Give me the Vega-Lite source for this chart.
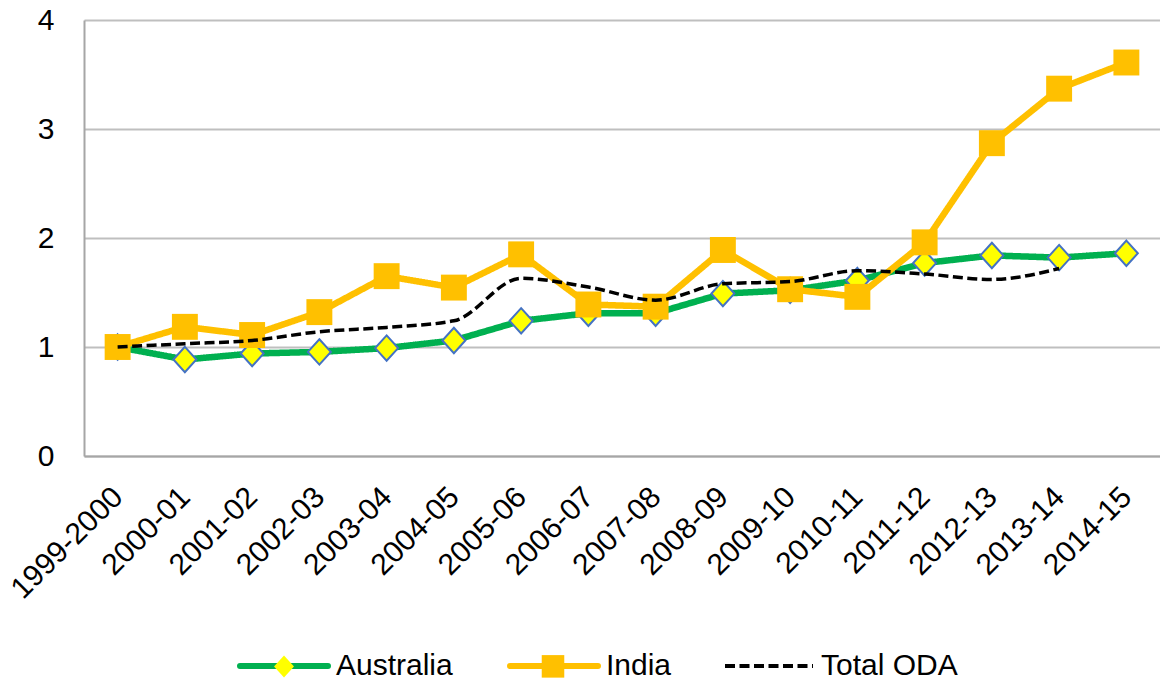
{
  "$schema": "https://vega.github.io/schema/vega-lite/v6.json",
  "width": 1076,
  "height": 436,
  "autosize": {"type": "none"},
  "padding": {"left": 84, "top": 20, "right": 0, "bottom": 226},
  "background": "white",
  "config": {"view": {"stroke": null}, "font": "Liberation Sans"},
  "data": {"values": [
    {"year": "1999-2000", "series": "Australia", "value": 1.00},
    {"year": "2000-01", "series": "Australia", "value": 0.885},
    {"year": "2001-02", "series": "Australia", "value": 0.94},
    {"year": "2002-03", "series": "Australia", "value": 0.955},
    {"year": "2003-04", "series": "Australia", "value": 0.99},
    {"year": "2004-05", "series": "Australia", "value": 1.06},
    {"year": "2005-06", "series": "Australia", "value": 1.24},
    {"year": "2006-07", "series": "Australia", "value": 1.31},
    {"year": "2007-08", "series": "Australia", "value": 1.31},
    {"year": "2008-09", "series": "Australia", "value": 1.49},
    {"year": "2009-10", "series": "Australia", "value": 1.52},
    {"year": "2010-11", "series": "Australia", "value": 1.61},
    {"year": "2011-12", "series": "Australia", "value": 1.77},
    {"year": "2012-13", "series": "Australia", "value": 1.84},
    {"year": "2013-14", "series": "Australia", "value": 1.82},
    {"year": "2014-15", "series": "Australia", "value": 1.86},
    {"year": "1999-2000", "series": "India", "value": 1.00},
    {"year": "2000-01", "series": "India", "value": 1.185},
    {"year": "2001-02", "series": "India", "value": 1.11},
    {"year": "2002-03", "series": "India", "value": 1.32},
    {"year": "2003-04", "series": "India", "value": 1.65},
    {"year": "2004-05", "series": "India", "value": 1.545},
    {"year": "2005-06", "series": "India", "value": 1.85},
    {"year": "2006-07", "series": "India", "value": 1.39},
    {"year": "2007-08", "series": "India", "value": 1.37},
    {"year": "2008-09", "series": "India", "value": 1.89},
    {"year": "2009-10", "series": "India", "value": 1.53},
    {"year": "2010-11", "series": "India", "value": 1.46},
    {"year": "2011-12", "series": "India", "value": 1.96},
    {"year": "2012-13", "series": "India", "value": 2.87},
    {"year": "2013-14", "series": "India", "value": 3.37},
    {"year": "2014-15", "series": "India", "value": 3.61},
    {"year": "1999-2000", "series": "Total ODA", "value": 1.00},
    {"year": "2000-01", "series": "Total ODA", "value": 1.03},
    {"year": "2001-02", "series": "Total ODA", "value": 1.06},
    {"year": "2002-03", "series": "Total ODA", "value": 1.14},
    {"year": "2003-04", "series": "Total ODA", "value": 1.18},
    {"year": "2004-05", "series": "Total ODA", "value": 1.24},
    {"year": "2005-06", "series": "Total ODA", "value": 1.63},
    {"year": "2006-07", "series": "Total ODA", "value": 1.55},
    {"year": "2007-08", "series": "Total ODA", "value": 1.43},
    {"year": "2008-09", "series": "Total ODA", "value": 1.58},
    {"year": "2009-10", "series": "Total ODA", "value": 1.60},
    {"year": "2010-11", "series": "Total ODA", "value": 1.70},
    {"year": "2011-12", "series": "Total ODA", "value": 1.67},
    {"year": "2012-13", "series": "Total ODA", "value": 1.62},
    {"year": "2013-14", "series": "Total ODA", "value": 1.72}
  ]},
  "encoding": {
    "x": {
      "field": "year", "type": "ordinal", "sort": null,
      "scale": {"type": "point", "padding": 0.5},
      "axis": {"title": null, "labelAngle": -45, "labelAlign": "right", "labelBaseline": "middle", "labelFontSize": 30, "labelColor": "#000000", "ticks": false, "domainColor": "#A6A6A6", "domainWidth": 2, "labelPadding": 36, "grid": false}
    },
    "y": {
      "field": "value", "type": "quantitative",
      "scale": {"domain": [0, 4], "nice": false},
      "axis": {"title": null, "values": [0, 1, 2, 3, 4], "grid": true, "gridColor": "#BFBFBF", "gridWidth": 2, "domainColor": "#A6A6A6", "domainWidth": 2, "ticks": false, "labelPadding": 30, "labelFontSize": 30, "labelColor": "#000000"}
    }
  },
  "layer": [
    {
      "transform": [{"filter": "datum.series === 'Australia'"}],
      "mark": {"type": "line", "strokeWidth": 6.5, "strokeJoin": "round", "strokeCap": "round"},
      "encoding": {
        "stroke": {"field": "series", "type": "nominal", "scale": {"domain": ["Australia", "India", "Total ODA"], "range": ["#00B050", "#FFC000", "#000000"]},
          "legend": {"title": null, "orient": "none", "legendX": 153, "legendY": 599, "direction": "horizontal", "symbolType": "stroke", "symbolSize": 7744, "labelFontSize": 30, "labelColor": "#000000", "labelOffset": 5, "columnPadding": 45, "padding": 0,
            "encode": {"symbols": {"update": {"strokeWidth": {"signal": "(datum.label === 'Total ODA' ? 4 : 6)"}, "strokeCap": {"signal": "(datum.label === 'Total ODA' ? 'butt' : 'round')"}}}}}},
        "strokeDash": {"field": "series", "type": "nominal", "scale": {"domain": ["Australia", "India", "Total ODA"], "range": [[1, 0], [1, 0], [10, 4.5]]},
          "legend": {"title": null, "orient": "none", "legendX": 153, "legendY": 599, "direction": "horizontal", "symbolType": "stroke", "symbolSize": 7744, "labelFontSize": 30, "labelColor": "#000000", "labelOffset": 5, "columnPadding": 45, "padding": 0}}
      }
    },
    {
      "transform": [{"filter": "datum.series === 'Australia'"}],
      "mark": {"type": "point", "filled": true, "opacity": 1, "stroke": "#4472C4", "strokeWidth": 2, "size": 11200},
      "encoding": {
        "fill": {"field": "series", "type": "nominal", "scale": {"domain": ["Australia", "India"], "range": ["#FFFF00", "#FFC000"]},
          "legend": {"title": null, "orient": "none", "legendX": 153, "legendY": 599, "direction": "horizontal", "symbolSize": 8464, "symbolStrokeWidth": 2, "symbolStrokeColor": "#4472C4", "labelFontSize": 30, "labelExpr": "''", "labelOffset": 5, "columnPadding": 170, "padding": 0,
            "encode": {"symbols": {"update": {"strokeOpacity": {"signal": "(datum.label === 'India' ? 0 : 1)"}}}}}},
        "shape": {"field": "series", "type": "nominal", "scale": {"domain": ["Australia", "India"], "range": ["M0,-0.24L0.217,0L0,0.24L-0.217,0Z", "M-0.245,-0.245L0.245,-0.245L0.245,0.245L-0.245,0.245Z"]},
          "legend": {"title": null, "orient": "none", "legendX": 153, "legendY": 599, "direction": "horizontal", "symbolSize": 8464, "symbolStrokeWidth": 2, "symbolStrokeColor": "#4472C4", "labelFontSize": 30, "labelExpr": "''", "labelOffset": 5, "columnPadding": 170, "padding": 0}}
      }
    },
    {
      "transform": [{"filter": "datum.series === 'India'"}],
      "mark": {"type": "line", "strokeWidth": 6.5, "strokeJoin": "round", "strokeCap": "round"},
      "encoding": {
        "stroke": {"field": "series", "type": "nominal", "scale": {"domain": ["Australia", "India", "Total ODA"], "range": ["#00B050", "#FFC000", "#000000"]},
          "legend": {"title": null, "orient": "none", "legendX": 153, "legendY": 599, "direction": "horizontal", "symbolType": "stroke", "symbolSize": 7744, "labelFontSize": 30, "labelColor": "#000000", "labelOffset": 5, "columnPadding": 45, "padding": 0,
            "encode": {"symbols": {"update": {"strokeWidth": {"signal": "(datum.label === 'Total ODA' ? 4 : 6)"}, "strokeCap": {"signal": "(datum.label === 'Total ODA' ? 'butt' : 'round')"}}}}}},
        "strokeDash": {"field": "series", "type": "nominal", "scale": {"domain": ["Australia", "India", "Total ODA"], "range": [[1, 0], [1, 0], [10, 4.5]]},
          "legend": {"title": null, "orient": "none", "legendX": 153, "legendY": 599, "direction": "horizontal", "symbolType": "stroke", "symbolSize": 7744, "labelFontSize": 30, "labelColor": "#000000", "labelOffset": 5, "columnPadding": 45, "padding": 0}}
      }
    },
    {
      "transform": [{"filter": "datum.series === 'India'"}],
      "mark": {"type": "point", "filled": true, "opacity": 1, "strokeWidth": 0, "size": 11200},
      "encoding": {
        "fill": {"field": "series", "type": "nominal", "scale": {"domain": ["Australia", "India"], "range": ["#FFFF00", "#FFC000"]},
          "legend": {"title": null, "orient": "none", "legendX": 153, "legendY": 599, "direction": "horizontal", "symbolSize": 8464, "symbolStrokeWidth": 2, "symbolStrokeColor": "#4472C4", "labelFontSize": 30, "labelExpr": "''", "labelOffset": 5, "columnPadding": 170, "padding": 0,
            "encode": {"symbols": {"update": {"strokeOpacity": {"signal": "(datum.label === 'India' ? 0 : 1)"}}}}}},
        "shape": {"field": "series", "type": "nominal", "scale": {"domain": ["Australia", "India"], "range": ["M0,-0.24L0.217,0L0,0.24L-0.217,0Z", "M-0.245,-0.245L0.245,-0.245L0.245,0.245L-0.245,0.245Z"]},
          "legend": {"title": null, "orient": "none", "legendX": 153, "legendY": 599, "direction": "horizontal", "symbolSize": 8464, "symbolStrokeWidth": 2, "symbolStrokeColor": "#4472C4", "labelFontSize": 30, "labelExpr": "''", "labelOffset": 5, "columnPadding": 170, "padding": 0}}
      }
    },
    {
      "transform": [{"filter": "datum.series === 'Total ODA'"}],
      "mark": {"type": "line", "strokeWidth": 3.5, "interpolate": "monotone"},
      "encoding": {
        "stroke": {"field": "series", "type": "nominal", "scale": {"domain": ["Australia", "India", "Total ODA"], "range": ["#00B050", "#FFC000", "#000000"]},
          "legend": {"title": null, "orient": "none", "legendX": 153, "legendY": 599, "direction": "horizontal", "symbolType": "stroke", "symbolSize": 7744, "labelFontSize": 30, "labelColor": "#000000", "labelOffset": 5, "columnPadding": 45, "padding": 0,
            "encode": {"symbols": {"update": {"strokeWidth": {"signal": "(datum.label === 'Total ODA' ? 4 : 6)"}, "strokeCap": {"signal": "(datum.label === 'Total ODA' ? 'butt' : 'round')"}}}}}},
        "strokeDash": {"field": "series", "type": "nominal", "scale": {"domain": ["Australia", "India", "Total ODA"], "range": [[1, 0], [1, 0], [10, 4.5]]},
          "legend": {"title": null, "orient": "none", "legendX": 153, "legendY": 599, "direction": "horizontal", "symbolType": "stroke", "symbolSize": 7744, "labelFontSize": 30, "labelColor": "#000000", "labelOffset": 5, "columnPadding": 45, "padding": 0}}
      }
    }
  ]
}
